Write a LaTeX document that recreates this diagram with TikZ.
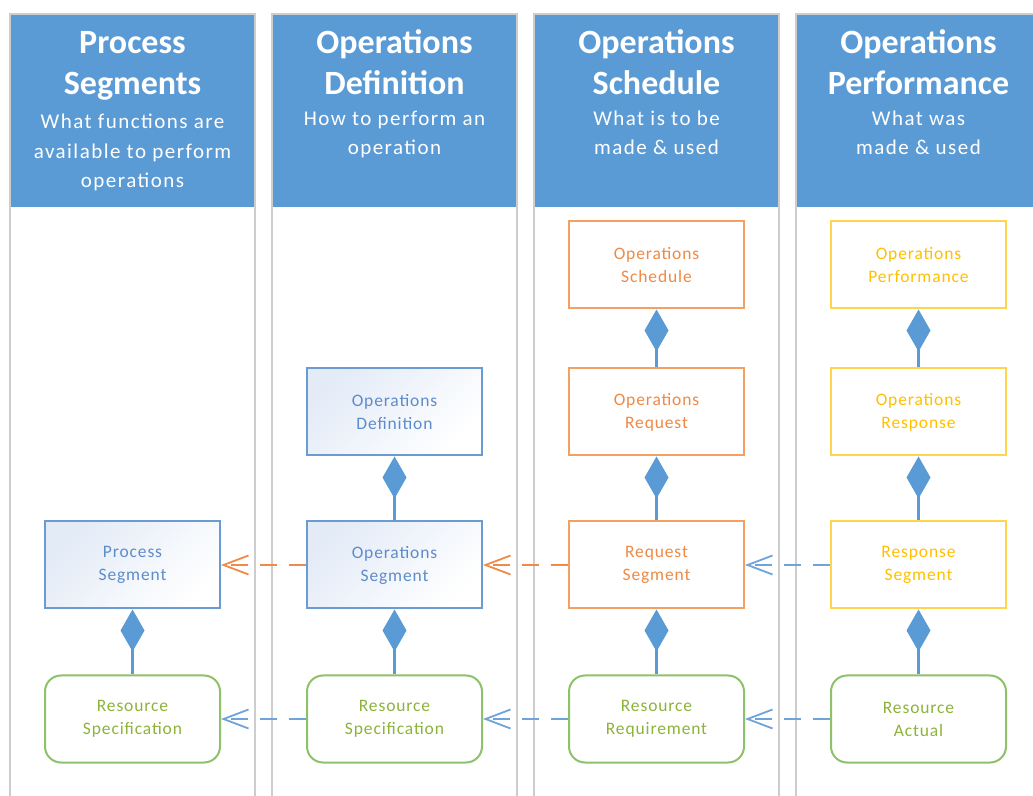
\documentclass[tikz,border=0pt]{standalone}
\usepackage{fontspec}
\setmainfont{Carlito}
\newfontfamily\subfont{Carlito}[LetterSpace=7]
\newfontfamily\boxfont{Carlito}[LetterSpace=5]
\usepackage{tikz}
\usetikzlibrary{shapes,arrows}
\usetikzlibrary{arrows.meta}

\definecolor{headblue}{HTML}{5B9BD5}
\definecolor{colgray}{HTML}{CDCDCD}
\definecolor{boxblue}{HTML}{6A9BD3}
\definecolor{textblue}{HTML}{5D8CCB}
\definecolor{shadeblue}{HTML}{E3EBF7}
\definecolor{boxorange}{HTML}{F5A063}
\definecolor{textorange}{HTML}{EE8A45}
\definecolor{boxyellow}{HTML}{FFD54F}
\definecolor{textyellow}{HTML}{FFC000}
\definecolor{boxgreen}{HTML}{8DC26A}
\definecolor{textgreen}{HTML}{8DB33A}
\definecolor{linkorange}{HTML}{F08A4B}
\definecolor{linkblue}{HTML}{6FA3DA}

\begin{document}
\begin{tikzpicture}[x=1pt, y=1pt]
        \tikzstyle{block} = [rectangle, draw, line width=2pt, minimum width=175pt, minimum height=87pt, align=center, font=\boxfont\fontsize{17.5}{23}\selectfont]
        \tikzstyle{blubox} = [block, draw=boxblue, text=textblue, top color=shadeblue, bottom color=white, shading angle=45]
        \tikzstyle{orabox} = [block, draw=boxorange, text=textorange, fill=white]
        \tikzstyle{yelbox} = [block, draw=boxyellow, text=textyellow, fill=white]
        \tikzstyle{resbox} = [block, draw=boxgreen, text=textgreen, fill=white, rounded corners=16pt]
        \tikzstyle{headtitle} = [anchor=base, text=white, align=center, font=\fontsize{34}{41}\selectfont\bfseries]
        \tikzstyle{headsub} = [anchor=base, text=white, align=center, font=\subfont\fontsize{21}{29.5}\selectfont]
        \tikzstyle{comp} = [draw=headblue, line width=2.2pt, {Diamond[length=42pt, width=24pt]}-]
        \tikzstyle{trace} = [draw, line width=2.2pt, dash pattern=on 17pt off 12pt, -{Straight Barb[length=25pt, width=19pt, line width=1.8pt]}]

        \useasboundingbox (0,0) rectangle (1033,795);

        % columns and their headers
        \foreach \cx in {132.5, 394.5, 656.5, 918.5} {
            \fill [headblue] (\cx-122.5, 588) rectangle (\cx+122.5, 781);
            \draw [colgray, line width=2pt] (\cx-122.5, -10) rectangle (\cx+122.5, 781);
        }

        % base anchor = last line
        \node [headtitle] (prochead) at (132.5, 700.5) {Process\\Segments};
        \node [headsub] (procsub) at (132.5, 607) {What functions are\\available to perform\\operations};
        \node [headtitle] (defhead) at (394.5, 700.5) {Operations\\Definition};
        \node [headsub] (defsub) at (394.5, 640) {How to perform an\\operation};
        \node [headtitle] (schedhead) at (656.5, 700.5) {Operations\\Schedule};
        \node [headsub] (schedsub) at (656.5, 640) {What is to be\\made \& used};
        \node [headtitle] (perfhead) at (918.5, 700.5) {Operations\\Performance};
        \node [headsub] (perfsub) at (918.5, 640) {What was\\made \& used};

        % boxes
        \node [blubox] (procseg) at (132.5, 230) {Process\\Segment};
        \node [resbox, below of=procseg, node distance=154pt] (procres) {Resource\\Specification};
        \node [blubox, right of=procseg, node distance=262pt] (opseg) {Operations\\Segment};
        \node [blubox, above of=opseg, node distance=153pt] (opdef) {Operations\\Definition};
        \node [resbox, right of=procres, node distance=262pt] (defres) {Resource\\Specification};
        \node [orabox, right of=opseg, node distance=262pt] (reqseg) {Request\\Segment};
        \node [orabox, above of=reqseg, node distance=153pt] (opreq) {Operations\\Request};
        \node [orabox, above of=opreq, node distance=147pt] (opsched) {Operations\\Schedule};
        \node [resbox, right of=defres, node distance=262pt] (resreq) {Resource\\Requirement};
        \node [yelbox, right of=reqseg, node distance=262pt] (respseg) {Response\\Segment};
        \node [yelbox, above of=respseg, node distance=153pt] (opresp) {Operations\\Response};
        \node [yelbox, above of=opresp, node distance=147pt] (opperf) {Operations\\Performance};
        \node [resbox, right of=resreq, node distance=262pt] (resact) {Resource\\Actual};

        % composition
        \path [comp] (procseg) -- (procres);
        \path [comp] (opdef) -- (opseg);
        \path [comp] (opseg) -- (defres);
        \path [comp] (opsched) -- (opreq);
        \path [comp] (opreq) -- (reqseg);
        \path [comp] (reqseg) -- (resreq);
        \path [comp] (opperf) -- (opresp);
        \path [comp] (opresp) -- (respseg);
        \path [comp] (respseg) -- (resact);

        % dependencies
        \path [trace, linkorange] (opseg) -- (procseg);
        \path [trace, linkorange] (reqseg) -- (opseg);
        \path [trace, linkblue] (respseg) -- (reqseg);
        \path [trace, linkblue] (defres) -- (procres);
        \path [trace, linkblue] (resreq) -- (defres);
        \path [trace, linkblue] (resact) -- (resreq);
\end{tikzpicture}
\end{document}
